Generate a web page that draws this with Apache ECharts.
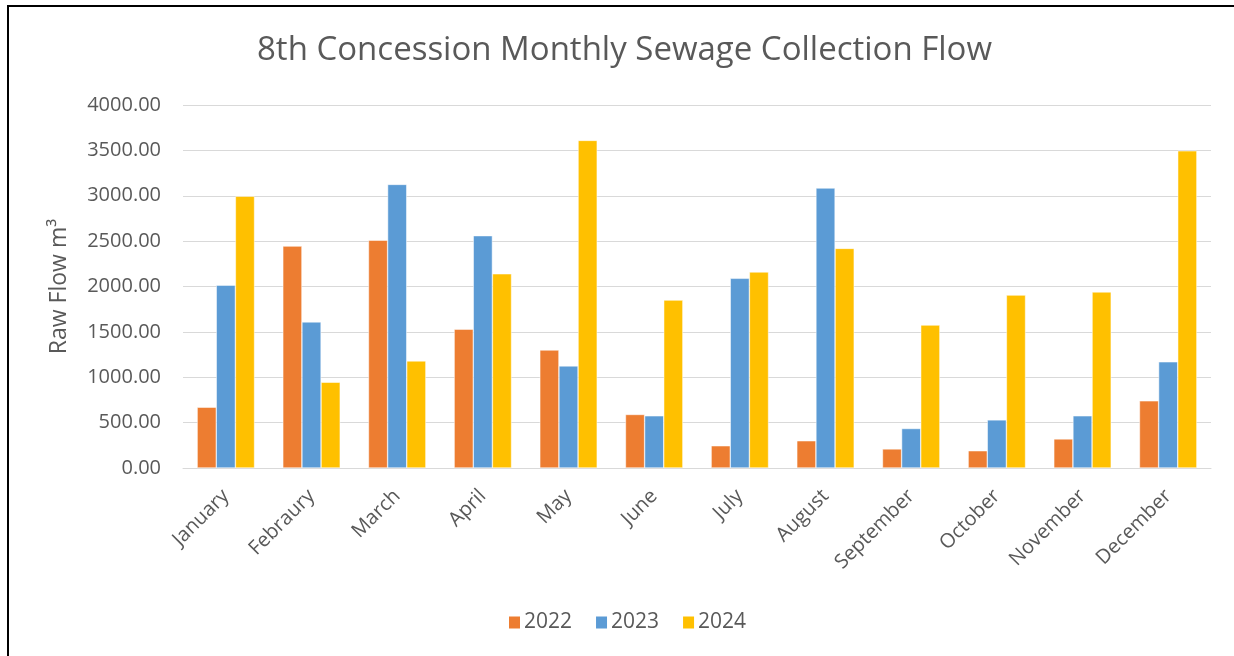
<!DOCTYPE html>
<html>
<head>
<meta charset="utf-8">
<script src="https://cdn.jsdelivr.net/npm/echarts@6/dist/echarts.min.js"></script>
<style>
  html, body { margin: 0; padding: 0; background: #fff; }
  #frame { position: absolute; left: 7px; top: 5px; width: 1227px; height: 651px;
           border-left: 2px solid #000; border-top: 2px solid #000; box-sizing: border-box; }
  #chart { position: absolute; left: 0; top: 0; width: 1234px; height: 656px; }
</style>
</head>
<body>
<div id="frame"></div>
<div id="chart"></div>
<script>
// months (spelling kept as in the source chart)
const months = ['January', 'Febraury', 'March', 'April', 'May', 'June', 'July',
  'August', 'September', 'October', 'November', 'December'];

// raw flow m3 per year
const flow2022 = [670, 2445, 2510, 1530, 1300, 590, 245, 300, 210, 190, 320, 740];
const flow2023 = [2015, 1610, 3125, 2560, 1125, 575, 2090, 3085, 435, 530, 575, 1170];
const flow2024 = [2995, 945, 1180, 2140, 3610, 1850, 2160, 2420, 1575, 1905, 1940, 3495];

const years = ['2022', '2023', '2024'];
const colors = ['#ED7D31', '#5B9BD5', '#FFC000'];

const font = 'Open Sans';
const grey = '#595959';

const chart = echarts.init(document.getElementById('chart'));

const seriesData = [flow2022, flow2023, flow2024];

chart.setOption({
  animation: false,
  color: colors,
  title: {
    text: '8th Concession Monthly Sewage Collection Flow',
    left: 252,
    top: 29,
    textStyle: { fontFamily: font, fontSize: 33, fontWeight: 'normal', color: grey }
  },
  legend: {
    bottom: 18,
    left: 502,
    itemWidth: 13,
    itemHeight: 14,
    itemGap: 22,
    icon: 'rect',
    textStyle: { fontFamily: font, fontSize: 21, color: grey, padding: [0, 0, 0, -2] },
    data: years
  },
  grid: { left: 183, right: 23, top: 105, bottom: 188 },
  xAxis: {
    type: 'category',
    data: months,
    axisLine: { lineStyle: { color: '#d9d9d9', width: 1 } },
    axisTick: { show: false },
    axisLabel: {
      rotate: 45,
      margin: 25,
      interval: 0,
      fontFamily: font,
      fontSize: 20,
      color: grey
    }
  },
  yAxis: {
    type: 'value',
    min: 0,
    max: 4000,
    interval: 500,
    name: 'Raw Flow m³',
    nameLocation: 'middle',
    nameGap: 112,
    nameTextStyle: { fontFamily: font, fontSize: 23, color: grey },
    axisLine: { show: false },
    axisTick: { show: false },
    axisLabel: {
      margin: 22,
      fontFamily: font,
      fontSize: 20,
      color: grey,
      formatter: v => v.toFixed(2)
    },
    splitLine: { lineStyle: { color: '#d9d9d9', width: 1 } }
  },
  series: years.map((y, i) => ({
    name: y,
    type: 'bar',
    data: seriesData[i],
    barGap: '0%',
    barCategoryGap: '33%',
    itemStyle: { borderColor: '#fff', borderWidth: 0.5 }
  }))
});
</script>
</body>
</html>
